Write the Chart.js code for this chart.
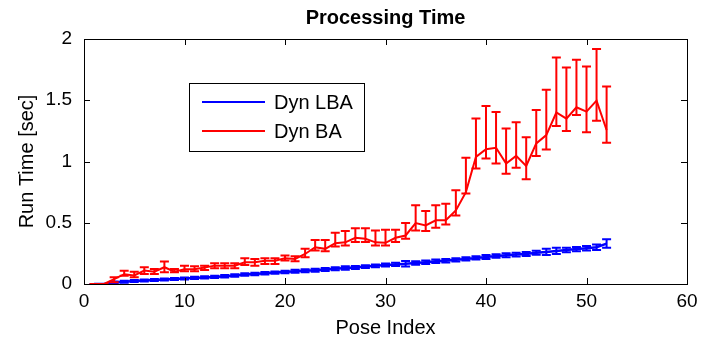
<!DOCTYPE html>
<html>
<head>
<meta charset="utf-8">
<title>Processing Time</title>
<script src="https://cdn.jsdelivr.net/npm/chart.js@4/dist/chart.umd.min.js"></script>
<style>
  html, body { margin: 0; padding: 0; background: #fff; }
  canvas { display: block; }
</style>
</head>
<body>
<canvas id="myChart" width="704" height="342"></canvas>
<script>
// pose index (x values)
const poseIndex = [1, 2, 3, 4, 5, 6, 7, 8, 9, 10, 11, 12, 13, 14, 15, 16, 17, 18, 19, 20,
    21, 22, 23, 24, 25, 26, 27, 28, 29, 30, 31, 32, 33, 34, 35, 36, 37, 38, 39, 40,
    41, 42, 43, 44, 45, 46, 47, 48, 49, 50, 51, 52];

// Dyn LBA run time, mean and error (half width)
const lbaMean = [0, 0, 0.012, 0.018, 0.024, 0.028, 0.032, 0.036, 0.04, 0.045,
    0.05, 0.054, 0.058, 0.064, 0.07, 0.078, 0.082, 0.088, 0.093, 0.098,
    0.104, 0.108, 0.113, 0.118, 0.125, 0.13, 0.135, 0.142, 0.148, 0.155,
    0.16, 0.165, 0.172, 0.178, 0.185, 0.19, 0.197, 0.205, 0.213, 0.22,
    0.228, 0.235, 0.24, 0.245, 0.255, 0.262, 0.27, 0.278, 0.285, 0.292,
    0.3, 0.33];
const lbaErr = [0, 0, 0.008, 0.008, 0.008, 0.008, 0.008, 0.008, 0.008, 0.008,
    0.01, 0.01, 0.01, 0.01, 0.01, 0.01, 0.01, 0.01, 0.01, 0.01,
    0.012, 0.012, 0.012, 0.012, 0.012, 0.014, 0.012, 0.012, 0.012, 0.012,
    0.014, 0.022, 0.014, 0.014, 0.014, 0.014, 0.014, 0.014, 0.014, 0.016,
    0.014, 0.016, 0.016, 0.016, 0.016, 0.025, 0.025, 0.018, 0.018, 0.018,
    0.022, 0.035];

// Dyn BA run time, mean and error bar ends
const baMean = [0, 0, 0.04, 0.08, 0.07, 0.11, 0.10, 0.137, 0.10, 0.12,
    0.12, 0.135, 0.15, 0.15, 0.15, 0.178, 0.178, 0.19, 0.19, 0.21,
    0.205, 0.245, 0.30, 0.287, 0.333, 0.34, 0.377, 0.369, 0.34, 0.336,
    0.377, 0.396, 0.497, 0.478, 0.52, 0.52, 0.60, 0.75, 1.038, 1.10,
    1.112, 0.984, 1.046, 0.964, 1.148, 1.216, 1.40, 1.35, 1.443, 1.407,
    1.497, 1.257];
const baHigh = [0, 0, 0.055, 0.109, 0.10, 0.137, 0.123, 0.183, 0.123, 0.15,
    0.145, 0.15, 0.17, 0.17, 0.17, 0.21, 0.205, 0.21, 0.21, 0.232,
    0.227, 0.287, 0.36, 0.36, 0.418, 0.432, 0.456, 0.456, 0.437, 0.443,
    0.443, 0.497, 0.642, 0.596, 0.642, 0.656, 0.765, 1.03, 1.352, 1.453,
    1.404, 1.27, 1.32, 1.197, 1.42, 1.585, 1.85, 1.768, 1.83, 1.776,
    1.918, 1.612];
const baLow = [0, 0, 0.014, 0.068, 0.055, 0.082, 0.082, 0.096, 0.096, 0.104,
    0.104, 0.115, 0.128, 0.128, 0.128, 0.156, 0.15, 0.164, 0.164, 0.191,
    0.186, 0.219, 0.273, 0.268, 0.306, 0.314, 0.342, 0.342, 0.314, 0.314,
    0.342, 0.369, 0.437, 0.432, 0.459, 0.486, 0.56, 0.738, 0.943, 1.025,
    0.984, 0.90, 0.948, 0.855, 1.044, 1.098, 1.29, 1.249, 1.38, 1.238,
    1.333, 1.153];

const xTicks = [0, 10, 20, 30, 40, 50, 60];
const yTicks = [0, 0.5, 1, 1.5, 2];

const seriesNames = ["Dyn LBA", "Dyn BA"];
const seriesColors = ["#0000ff", "#ff0000"];

const FONT = "'Liberation Sans', Arial, Helvetica, sans-serif";

// error bar ends for each series
const lows = [lbaMean.map((v, i) => v - lbaErr[i]), baLow];
const highs = [lbaMean.map((v, i) => v + lbaErr[i]), baHigh];

function points(values) {
    return poseIndex.map((x, i) => ({ x: x, y: values[i] }));
}

// draws the matlab style error bars after each line
const errorBars = {
    id: "errorBars",
    afterDatasetDraw(chart, args) {
        const i = args.index;
        const xs = chart.scales.x, ys = chart.scales.y;
        const ctx = chart.ctx;
        const area = chart.chartArea;
        ctx.save();
        ctx.beginPath();
        ctx.rect(area.left, area.top, area.right - area.left, area.bottom - area.top);
        ctx.clip();
        ctx.strokeStyle = seriesColors[i];
        ctx.lineWidth = 2;
        const cap = 4.5;
        for (let k = 0; k < poseIndex.length; k++) {
            const px = xs.getPixelForValue(poseIndex[k]);
            const lo = ys.getPixelForValue(lows[i][k]);
            const hi = ys.getPixelForValue(highs[i][k]);
            ctx.beginPath();
            ctx.moveTo(px, lo); ctx.lineTo(px, hi);
            ctx.moveTo(px - cap, lo); ctx.lineTo(px + cap, lo);
            ctx.moveTo(px - cap, hi); ctx.lineTo(px + cap, hi);
            ctx.stroke();
        }
        ctx.restore();
    }
};

// box around the axes, inward ticks, and the legend
const frame = {
    id: "frame",
    afterDraw(chart) {
        const ctx = chart.ctx;
        const a = chart.chartArea;
        const xs = chart.scales.x, ys = chart.scales.y;
        ctx.save();
        ctx.strokeStyle = "#000";
        ctx.lineWidth = 1;
        ctx.strokeRect(a.left + 0.5, a.top + 0.5, a.right - a.left, a.bottom - a.top);
        const t = 6;
        ctx.beginPath();
        xTicks.forEach(v => {
            const p = Math.round(xs.getPixelForValue(v)) + 0.5;
            ctx.moveTo(p, a.bottom); ctx.lineTo(p, a.bottom - t);
            ctx.moveTo(p, a.top); ctx.lineTo(p, a.top + t);
        });
        yTicks.forEach(v => {
            const p = Math.round(ys.getPixelForValue(v)) + 0.5;
            ctx.moveTo(a.left, p); ctx.lineTo(a.left + t, p);
            ctx.moveTo(a.right, p); ctx.lineTo(a.right - t, p);
        });
        ctx.stroke();

        // legend box
        const lx = 189, ly = 83, lw = 175, lh = 68;
        ctx.fillStyle = "#fff";
        ctx.fillRect(lx, ly, lw, lh);
        ctx.strokeRect(lx + 0.5, ly + 0.5, lw, lh);
        ctx.font = "20px " + FONT;
        ctx.textBaseline = "middle";
        ctx.textAlign = "left";
        seriesNames.forEach((name, i) => {
            const y = ly + 19 + i * 29;
            ctx.strokeStyle = seriesColors[i];
            ctx.lineWidth = 2;
            ctx.beginPath();
            ctx.moveTo(lx + 13, y); ctx.lineTo(lx + 76, y);
            ctx.stroke();
            ctx.fillStyle = "#000";
            ctx.fillText(name, lx + 85, y + 1);
        });
        ctx.restore();
    }
};

const config = {
    type: "line",
    data: {
        datasets: [
            {
                label: seriesNames[0],
                data: points(lbaMean),
                borderColor: seriesColors[0],
                borderWidth: 2.5,
                pointRadius: 0,
                tension: 0,
                order: 2
            },
            {
                label: seriesNames[1],
                data: points(baMean),
                borderColor: seriesColors[1],
                borderWidth: 2,
                pointRadius: 0,
                tension: 0,
                order: 1
            }
        ]
    },
    options: {
        responsive: false,
        animation: false,
        devicePixelRatio: 1,
        layout: { padding: { left: 0, right: 17, top: 0, bottom: 0 } },
        plugins: {
            legend: { display: false },
            tooltip: { enabled: false },
            title: {
                display: true,
                text: "Processing Time",
                fullSize: false,
                color: "#000",
                font: { family: FONT, size: 20, weight: "bold" },
                padding: { top: 6, bottom: 9 }
            }
        },
        scales: {
            x: {
                type: "linear",
                min: 0,
                max: 60,
                afterFit: s => { s.height = 58; },
                afterBuildTicks: s => { s.ticks = xTicks.map(v => ({ value: v })); },
                grid: { display: false },
                border: { display: false },
                ticks: {
                    autoSkip: false,
                    maxRotation: 0,
                    padding: -2,
                    color: "#000",
                    font: { family: FONT, size: 19 },
                    callback: v => String(v)
                },
                title: {
                    display: true,
                    text: "Pose Index",
                    color: "#000",
                    font: { family: FONT, size: 20 },
                    padding: { top: 0, bottom: 2 }
                }
            },
            y: {
                type: "linear",
                min: 0,
                max: 2,
                afterFit: s => { s.width = 84; },
                afterBuildTicks: s => { s.ticks = yTicks.map(v => ({ value: v })); },
                grid: { display: false },
                border: { display: false },
                ticks: {
                    padding: 4,
                    color: "#000",
                    font: { family: FONT, size: 19 },
                    callback: v => String(v)
                },
                title: {
                    display: true,
                    text: "Run Time [sec]",
                    color: "#000",
                    font: { family: FONT, size: 20 },
                    padding: { top: 15, bottom: 0 }
                }
            }
        }
    },
    plugins: [errorBars, frame]
};

const chart = new Chart(document.getElementById("myChart").getContext("2d"), config);
</script>
</body>
</html>
